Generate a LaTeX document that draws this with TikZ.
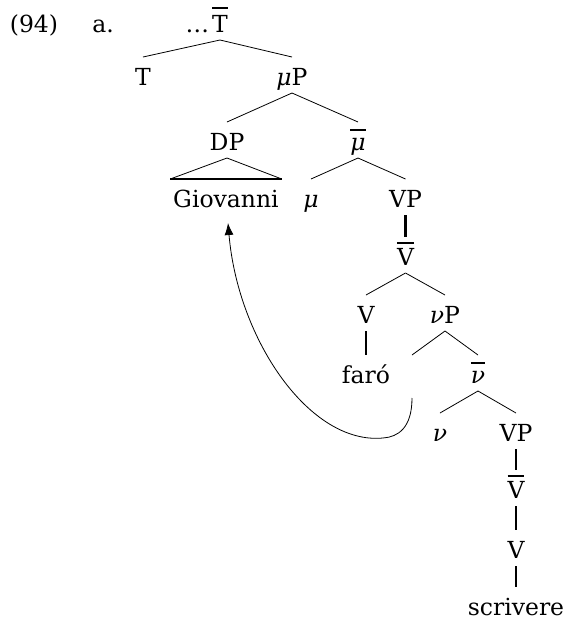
\documentclass[tikz,border=0pt]{standalone}
\usepackage{fontspec}
\setmainfont{DejaVu Serif}
\usetikzlibrary{arrows.meta}
\newcommand\ovbar[2]{\vbox{\hrule height 2pt \kern #2\hbox{#1}}}
\begin{document}
\begin{tikzpicture}[x=1pt,y=-1pt,
  lbl/.style={font=\fontsize{23.5}{27}\selectfont, inner sep=0pt, outer xsep=0pt, outer ysep=8pt, text height=20pt, text depth=0pt, anchor=base},
  br/.style={line width=0.8pt},
  un/.style={line width=2.4pt}]
\useasboundingbox (0,0) rectangle (565,625);
\node[lbl] (num) at (34,32) {(94)};
\node[lbl] (a) at (103,32) {a.};
\node[lbl] (Tbar) at (220,32) {\ovbar{T}{6pt}};
\node[lbl, anchor=base east, xshift=-3pt] (dots) at (Tbar.base west) {\ldots};
\node[lbl] (T) at (143,85) {T};
\node[lbl] (muP) at (292,85) {\textit{μ}P};
\node[lbl] (DP) at (227,150) {DP};
\node[lbl] (mubar) at (358,150) {\ovbar{\textit{μ}}{7pt}};
\node[lbl] (gio) at (226,207) {Giovanni};
\node[lbl] (mu) at (311,207) {\textit{μ}};
\node[lbl] (VP1) at (405.5,207) {VP};
\node[lbl] (Vbar1) at (405.5,265) {\ovbar{V}{4pt}};
\node[lbl] (V1) at (366,323) {V};
\node[lbl] (nuP) at (445,323) {\textit{ν}P};
\node[lbl] (faro) at (366,383) {faró};
\node[lbl] (trace) at (412,383) {};
\node[lbl] (nubar) at (478,383) {\ovbar{\textit{ν}}{7pt}};
\node[lbl] (nu) at (440,441) {\textit{ν}};
\node[lbl] (VP2) at (516,441) {VP};
\node[lbl] (Vbar2) at (516,498) {\ovbar{V}{4pt}};
\node[lbl] (V2) at (516,558) {V};
\node[lbl] (scr) at (516,615) {scrivere};
% branches
\draw[br] (Tbar.south) -- (T.north);
\draw[br] (Tbar.south) -- (muP.north);
\draw[br] (muP.south) -- (DP.north);
\draw[br] (muP.south) -- (mubar.north);
\draw[br] (mubar.south) -- (mu.north);
\draw[br] (mubar.south) -- (VP1.north);
\draw[br] (Vbar1.south) -- (V1.north);
\draw[br] (Vbar1.south) -- (nuP.north);
\draw[br] (nuP.south) -- (trace.north);
\draw[br] (nuP.south) -- (nubar.north);
\draw[br] (nubar.south) -- (nu.north);
\draw[br] (nubar.south) -- (VP2.north);
% triangle
\coordinate (triL) at ([xshift=-3pt]gio.north west);
\coordinate (triR) at ([xshift=3pt]gio.north east);
\draw[br] (triL) -- (DP.south) -- (triR);
\draw[un] (triL) -- (triR);
% unary
\draw[un] (VP1.south) -- (Vbar1.north);
\draw[un] (V1.south) -- (faro.north);
\draw[un] (VP2.south) -- (Vbar2.north);
\draw[un] (Vbar2.south) -- (V2.north);
\draw[un] (V2.south) -- (scr.north);
% movement arrow
\coordinate (arrS) at ([yshift=-7pt]trace.south);
\coordinate (arrB) at (383,438);
\coordinate (arrE) at (228,223);
\draw[line width=0.8pt, -{Latex[length=12pt,width=9pt]}] (arrS) .. controls (412,428) and (398,437) .. (arrB) .. controls (310,445) and (238,340) .. (arrE);
\end{tikzpicture}
\end{document}
